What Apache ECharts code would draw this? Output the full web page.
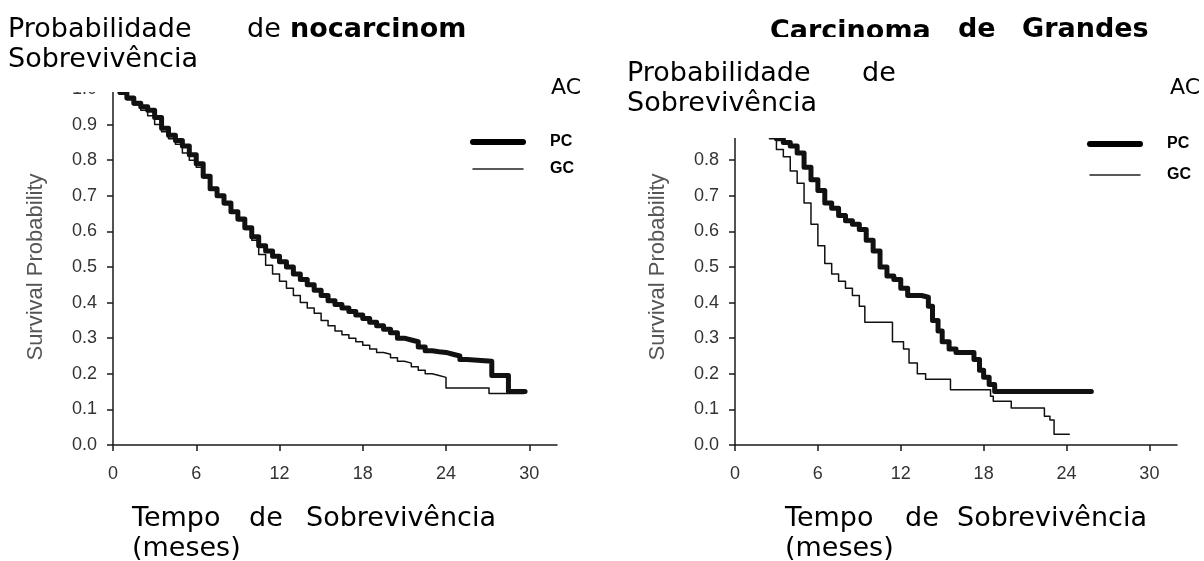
<!DOCTYPE html>
<html>
<head>
<meta charset="utf-8">
<script src="https://cdn.jsdelivr.net/npm/echarts@6/dist/echarts.min.js"></script>
<style>
  html, body { margin: 0; padding: 0; background: #fff; }
  #chart { width: 1204px; height: 561px; }
</style>
</head>
<body>
<div id="chart"></div>
<script>
// eixo x (meses) e eixo y
const xTicks = [0, 6, 12, 18, 24, 30];
const yTickLabels = ['0.0', '0.1', '0.2', '0.3', '0.4', '0.5', '0.6', '0.7', '0.8', '0.9', '1.0'];

// Adenocarcinoma - PC
const adenoPcTime = [0, 0.5, 1, 1.5, 2, 2.5, 3, 3.5, 4, 4.5, 5, 5.5, 6, 6.5, 7, 7.5, 8, 8.5, 9, 9.5, 10, 10.5, 11, 11.5, 12, 12.5, 13, 13.5, 14, 14.5, 15, 15.5, 16, 16.5, 17, 17.5, 18, 18.5, 19, 19.5, 20, 20.5, 21, 21.5, 22, 22.5, 23, 23.5, 24, 24.5, 25, 25.5, 27.3, 28.5, 29.7];
const adenoPcSurv = [1.0, 0.99, 0.975, 0.96, 0.95, 0.94, 0.92, 0.89, 0.87, 0.855, 0.84, 0.815, 0.79, 0.755, 0.72, 0.70, 0.68, 0.655, 0.635, 0.61, 0.585, 0.56, 0.545, 0.53, 0.515, 0.50, 0.48, 0.465, 0.45, 0.435, 0.42, 0.405, 0.395, 0.385, 0.375, 0.365, 0.355, 0.345, 0.335, 0.325, 0.315, 0.30, 0.295, 0.29, 0.275, 0.265, 0.262, 0.26, 0.255, 0.25, 0.24, 0.235, 0.195, 0.15, 0.15];
// Adenocarcinoma - GC
const adenoGcTime = [0, 0.5, 1, 1.5, 2, 2.5, 3, 3.5, 4, 4.5, 5, 5.5, 6, 6.5, 7, 7.5, 8, 8.5, 9, 9.5, 10, 10.5, 11, 11.5, 12, 12.5, 13, 13.5, 14, 14.5, 15, 15.5, 16, 16.5, 17, 17.5, 18, 18.5, 19, 19.5, 20, 20.5, 21, 21.5, 22, 22.5, 23, 23.5, 24, 27.1, 29.6];
const adenoGcSurv = [1.0, 0.985, 0.97, 0.955, 0.94, 0.925, 0.90, 0.88, 0.86, 0.845, 0.82, 0.80, 0.78, 0.75, 0.72, 0.70, 0.675, 0.655, 0.63, 0.605, 0.575, 0.535, 0.505, 0.48, 0.46, 0.44, 0.42, 0.40, 0.385, 0.37, 0.35, 0.335, 0.32, 0.31, 0.30, 0.29, 0.28, 0.27, 0.26, 0.255, 0.245, 0.235, 0.23, 0.22, 0.21, 0.20, 0.195, 0.19, 0.16, 0.145, 0.145];

// Carcinoma de grandes células - PC
const grandesPcTime = [0, 1, 2, 2.5, 3, 3.5, 4, 4.5, 5, 5.5, 6, 6.5, 7, 7.5, 8, 8.5, 9, 9.5, 10, 10.5, 11, 11.5, 12, 12.5, 13.5, 14, 14.3, 14.7, 15, 15.5, 16, 17.3, 17.7, 18, 18.4, 18.8, 25.8];
const grandesPcSurv = [1.0, 0.97, 0.92, 0.88, 0.86, 0.85, 0.84, 0.82, 0.78, 0.745, 0.715, 0.68, 0.665, 0.645, 0.63, 0.62, 0.605, 0.575, 0.545, 0.50, 0.475, 0.465, 0.44, 0.42, 0.415, 0.39, 0.35, 0.32, 0.29, 0.27, 0.26, 0.24, 0.21, 0.19, 0.17, 0.15, 0.15];
// Carcinoma de grandes células - GC
const grandesGcTime = [0, 1, 2, 2.5, 3, 3.5, 4, 4.5, 5, 5.5, 6, 6.5, 7, 7.5, 8, 8.5, 9, 9.4, 11, 11.4, 12.2, 12.6, 13.2, 13.8, 15.6, 18.5, 18.7, 20, 22.4, 22.8, 23.1, 24.2];
const grandesGcSurv = [1.0, 0.96, 0.90, 0.86, 0.83, 0.81, 0.77, 0.735, 0.68, 0.62, 0.56, 0.51, 0.48, 0.46, 0.44, 0.42, 0.39, 0.345, 0.345, 0.29, 0.27, 0.23, 0.20, 0.185, 0.155, 0.137, 0.123, 0.104, 0.081, 0.07, 0.03, 0.03];

function pairs(t, s) {
  return t.map((v, i) => [v, s[i]]);
}

const chart = echarts.init(document.getElementById('chart'));

const axisFont = 'Liberation Sans, Arial, sans-serif';
const textFont = 'DejaVu Sans, sans-serif';

function xAxisOpt(gridIndex) {
  return {
    gridIndex: gridIndex,
    type: 'value',
    min: 0,
    max: 32,
    interval: 6,
    axisLine: { lineStyle: { color: '#1a1a1a', width: 1.5 } },
    axisTick: { show: true, length: 6, lineStyle: { color: '#1a1a1a', width: 1.5 }, customValues: xTicks },
    axisLabel: { customValues: xTicks, margin: 20, fontSize: 18, color: '#333', fontFamily: axisFont },
    splitLine: { show: false }
  };
}

function yAxisOpt(gridIndex) {
  return {
    gridIndex: gridIndex,
    type: 'value',
    min: 0,
    max: 1,
    interval: 0.1,
    name: 'Survival Probability',
    nameLocation: 'middle',
    nameGap: 66,
    nameTextStyle: { fontSize: 22, color: '#555', fontFamily: axisFont },
    axisLine: { show: true, lineStyle: { color: '#1a1a1a', width: 1.5 } },
    axisTick: { show: true, length: 6, lineStyle: { color: '#1a1a1a', width: 1.5 } },
    axisLabel: {
      margin: 16, fontSize: 18, color: '#333', fontFamily: axisFont,
      formatter: v => yTickLabels[Math.round(v * 10)]
    },
    splitLine: { show: false }
  };
}

function km(name, data, gridIndex, width) {
  return {
    name: name,
    type: 'line',
    step: 'end',
    symbol: 'none',
    xAxisIndex: gridIndex,
    yAxisIndex: gridIndex,
    data: data,
    z: width > 3 ? 3 : 2,
    itemStyle: { color: '#111' },
    lineStyle: { color: '#111', width: width, cap: 'round', join: 'round' }
  };
}

function legendOpt(left, top, gap) {
  return {
    orient: 'vertical',
    left: left,
    top: top,
    itemWidth: 50,
    itemHeight: 14,
    itemGap: gap,
    selectedMode: false,
    data: [
      { name: 'PC', lineStyle: { width: 6, color: '#000', cap: 'round' }, itemStyle: { opacity: 0 } },
      { name: 'GC', lineStyle: { width: 1.5, color: '#222' }, itemStyle: { opacity: 0 } }
    ],
    textStyle: { fontSize: 16, fontWeight: 'bold', color: '#000', fontFamily: axisFont, padding: [0, 0, 0, 22] }
  };
}

function txt(x, y, s, bold, size, z) {
  return {
    type: 'text', x: x, y: y, z: z || 110,
    style: {
      text: s, fill: '#000', font: (bold ? 'bold ' : '') + (size || 27) + 'px ' + textFont,
      verticalAlign: 'middle'
    }
  };
}

function box(x, y, w, h, z) {
  return { type: 'rect', z: z || 100, shape: { x: x, y: y, width: w, height: h }, style: { fill: '#fff' } };
}

chart.setOption({
  backgroundColor: '#fff',
  animation: false,
  grid: [
    { left: 113, top: 89, width: 444, height: 356 },
    { left: 735, top: 89, width: 442, height: 356 }
  ],
  xAxis: [xAxisOpt(0), xAxisOpt(1)],
  yAxis: [yAxisOpt(0), yAxisOpt(1)],
  legend: [legendOpt(465, 129, 11), legendOpt(1082, 131, 15)],
  series: [
    km('GC', pairs(adenoGcTime, adenoGcSurv), 0, 1.5),
    km('PC', pairs(adenoPcTime, adenoPcSurv), 0, 5),
    km('GC', pairs(grandesGcTime, grandesGcSurv), 1, 1.5),
    km('PC', pairs(grandesPcTime, grandesPcSurv), 1, 5)
  ],
  graphic: [
    // caixas de texto sobrepostas
    box(0, 0, 500, 92),
    txt(8, 30, 'Probabilidade'),
    txt(247, 30, 'de'),
    txt(290, 30, 'nocarcinom', true),
    txt(8, 60, 'Sobrevivência'),
    txt(551, 88, 'AC', false, 22),
    txt(770, 32, 'Carcinoma', true, 27, 100),
    box(613, 37, 330, 101, 105),
    txt(958, 30, 'de', true),
    txt(1022, 30, 'Grandes', true),
    txt(627, 74, 'Probabilidade'),
    txt(862, 74, 'de'),
    txt(627, 104, 'Sobrevivência'),
    txt(1170, 88, 'AC', false, 22),
    txt(132, 519, 'Tempo'),
    txt(249, 519, 'de'),
    txt(306, 519, 'Sobrevivência'),
    txt(132, 549, '(meses)'),
    txt(785, 519, 'Tempo'),
    txt(905, 519, 'de'),
    txt(957, 519, 'Sobrevivência'),
    txt(785, 549, '(meses)')
  ]
});
window.addEventListener('resize', chart.resize);
</script>
</body>
</html>
